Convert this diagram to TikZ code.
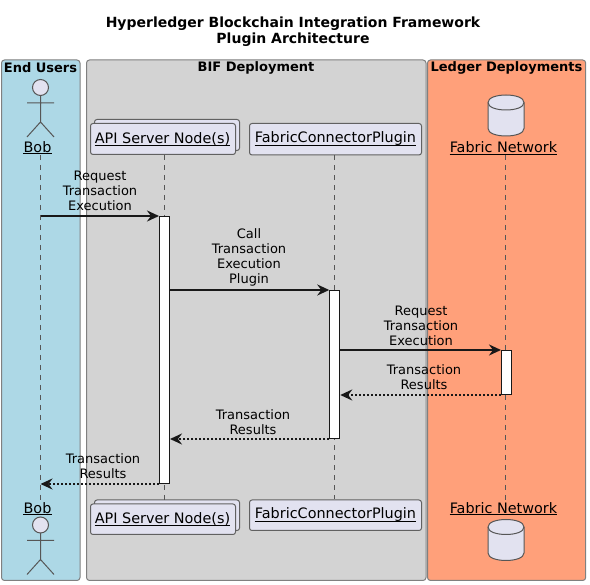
\documentclass[tikz,border=0pt]{standalone}
\usepackage{fontspec}
\setmainfont{DejaVu Sans}
\usetikzlibrary{arrows.meta,shapes.geometric,positioning}
\definecolor{enduser}{HTML}{ADD8E6}
\definecolor{bifgray}{HTML}{D3D3D3}
\definecolor{salmon}{HTML}{FFA07A}
\definecolor{part}{HTML}{E2E2F0}
\definecolor{ink}{HTML}{181818}
\definecolor{edge}{HTML}{808080}
\tikzset{
  x=1pt,y=-1pt,
  txt/.style={font=\fontsize{13}{15}\selectfont,align=center,inner sep=0pt,text=black},
  ptxt/.style={font=\fontsize{14.4}{16}\selectfont,inner sep=0pt,text=black},
  grouptitle/.style={font=\bfseries\fontsize{13}{15}\selectfont,inner sep=0pt},
  titletxt/.style={font=\bfseries\fontsize{14}{16}\selectfont,align=center,inner sep=0pt},
  groupbox/.style={draw=edge,line width=1pt,rounded corners=3pt},
  partbox/.style={draw=edge!70!ink,fill=part,line width=1pt,rounded corners=2.5pt,inner sep=0pt},
  shapeline/.style={draw=edge!60!ink,fill=part,line width=1pt},
  lifeline/.style={draw=edge!60!ink,line width=.8pt,dash pattern=on 5pt off 5pt},
  actbox/.style={draw=ink,fill=white,line width=1pt,inner sep=0pt},
  msg/.style={draw=ink,line width=1.8pt,-{Stealth[length=12pt,width=11pt,inset=4pt]}},
  reply/.style={draw=ink,line width=1.8pt,dash pattern=on 2pt off 2pt,-{Stealth[length=12pt,width=11pt,inset=4pt,sep=0pt]}},
  uline/.style={draw=black,line width=1pt},
}
\newcommand{\actorfig}[2]{%
  \draw[shapeline] (#1,#2) circle (8);
  \draw[shapeline,fill=none] (#1,#2+8) -- (#1,#2+34.5) (#1-13.5,#2+15.5) -- (#1+13.5,#2+15.5)
     (#1-13.5,#2+49.5) -- (#1,#2+34.5) -- (#1+13.5,#2+49.5);
}
\newcommand{\cylfig}[2]{%
  \draw[shapeline] (#1-18,#2+10) .. controls (#1-18,#2) and (#1+18,#2) .. (#1+18,#2+10)
    -- (#1+18,#2+36) .. controls (#1+18,#2+46) and (#1-18,#2+46) .. (#1-18,#2+36) -- cycle;
  \draw[shapeline,fill=none] (#1-18,#2+10) .. controls (#1-18,#2+20) and (#1+18,#2+20) .. (#1+18,#2+10);
}
\begin{document}
\begin{tikzpicture}
\useasboundingbox (0,0) rectangle (590,585);
% groups
\fill[white] (0,0) rectangle (590,585);
\draw[groupbox,fill=enduser] (1.5,60) rectangle (80,580.5);
\draw[groupbox,fill=bifgray] (86.5,60) rectangle (426,580.5);
\draw[groupbox,fill=salmon] (427.5,60) rectangle (585.7,580.5);
\node[titletxt] (title) at (293,32) {Hyperledger Blockchain Integration Framework\\Plugin Architecture};
\node[grouptitle] (gEnd) at (40.5,67.5) {End Users};
\node[grouptitle] (gBif) at (256,67.5) {BIF Deployment};
\node[grouptitle] (gLed) at (506.5,67.5) {Ledger Deployments};
% participant labels and boxes
\node[ptxt] (bobT) at (37.5,147) {Bob};
\node[ptxt] (bobB) at (37.5,508) {Bob};
\draw[partbox] (94.5,119.5) rectangle (239.5,150.5);
\node[partbox,minimum width=145pt,minimum height=31pt] (apiT) at (163,139) {};
\draw[partbox] (94.5,500) rectangle (239.5,530.5);
\node[partbox,minimum width=145pt,minimum height=30.5pt] (apiB) at (163,519.25) {};
\node[partbox,minimum width=172pt,minimum height=31.5pt] (fcT) at (335.5,139.25) {};
\node[partbox,minimum width=172pt,minimum height=30.5pt] (fcB) at (335.5,515.25) {};
\node[ptxt] (fnT) at (503.5,147) {Fabric Network};
\node[ptxt] (fnB) at (503.5,508) {Fabric Network};
% anchors for lifelines
\coordinate (bobTop) at (40.5,155);
\coordinate (bobBot) at (40.5,501);
\coordinate (fnTop) at (505.5,155);
\coordinate (fnBot) at (505.5,502);
\draw[lifeline] (bobTop) -- (bobBot);
\draw[lifeline] (apiT.south -| 164.5,0) -- (apiB.north -| 164.5,0);
\draw[lifeline] (fcT.south -| 334.5,0) -- (fcB.north -| 334.5,0);
\draw[lifeline] (fnTop) -- (fnBot);
\node[ptxt] (apiTT) at (162.5,138.5) {API Server Node(s)};
\node[ptxt] (fcTT) at (335.5,138.5) {FabricConnectorPlugin};
\node[ptxt] (apiBT) at (162.5,518.5) {API Server Node(s)};
\node[ptxt] (fcBT) at (335.5,514.5) {FabricConnectorPlugin};
% actors, databases
\actorfig{40.5}{87.5}
\actorfig{40.5}{525}
\cylfig{506}{92.5}
\cylfig{506}{517}
% activations
\node[actbox,minimum width=10pt,minimum height=267pt] (actA) at (164.5,350) {};
\node[actbox,minimum width=10pt,minimum height=148pt] (actF) at (334.75,364.5) {};
\node[actbox,minimum width=10pt,minimum height=44pt] (actN) at (506.5,372.5) {};
% messages
\node[txt] (m1) at (100,191) {Request\\Transaction\\Execution};
\node[txt] (m2) at (249,257.5) {Call\\Transaction\\Execution\\Plugin};
\node[txt] (m3) at (421,326) {Request\\Transaction\\Execution};
\node[txt] (m4) at (424,377) {Transaction\\Results};
\node[txt] (m5) at (253,422) {Transaction\\Results};
\node[txt] (m6) at (103,466) {Transaction\\Results};
\draw[msg] (bobTop |- actA.north) -- (actA.north west);
\draw[msg] (actA.east |- actF.north) -- (actF.north west);
\draw[msg] (actF.east |- actN.north) -- (actN.north west);
\draw[reply] (actN.south west) -- (actF.east |- actN.south);
\draw[reply] (actF.south west) -- (actA.east |- actF.south);
\draw[reply] (actA.south west) -- (bobBot |- actA.south);
% underlines
\draw[uline] (bobT.west |- 0,154) -- (bobT.east |- 0,154);
\draw[uline] (bobB.west |- 0,515) -- (bobB.east |- 0,515);
\draw[uline] (fnT.west |- 0,154.5) -- (fnT.east |- 0,154.5);
\draw[uline] (fnB.west |- 0,515) -- (fnB.east |- 0,515);
\draw[uline] (apiTT.west |- 0,146) -- (apiTT.east |- 0,146);
\draw[uline] (apiBT.west |- 0,526) -- (apiBT.east |- 0,526);
\draw[uline] (fcTT.west |- 0,146) -- (fcTT.east |- 0,146);
\draw[uline] (fcBT.west |- 0,522) -- (fcBT.east |- 0,522);
\end{tikzpicture}
\end{document}
